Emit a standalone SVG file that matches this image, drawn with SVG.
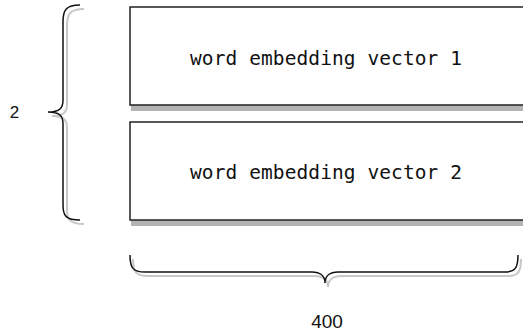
<svg xmlns="http://www.w3.org/2000/svg" width="523" height="334" viewBox="0 0 523 334">
<style>
.box{fill:#fff;stroke:#222;stroke-width:1.5}
.shadow{fill:#b3b3b3}
.brace{fill:none;stroke:#111;stroke-width:1.5}
.bshadow{fill:none;stroke:#c8c8c8;stroke-width:2}
.mono{font-family:"DejaVu Sans Mono","Liberation Mono",monospace;font-size:19.5px;fill:#111}
.lbl{font-family:"Liberation Sans",Arial,sans-serif;fill:#111}
</style>
<rect width="523" height="334" fill="#fff"/>
<g id="vector1">
<rect class="shadow" x="131" y="11" width="400" height="100"/>
<rect class="box" x="130" y="7" width="400" height="98"/>
<text class="mono" x="190" y="65" textLength="272" lengthAdjust="spacing">word embedding vector 1</text>
</g>
<g id="vector2">
<rect class="shadow" x="131" y="126" width="400" height="100"/>
<rect class="box" x="130" y="122" width="400" height="98"/>
<text class="mono" x="190" y="179" textLength="272" lengthAdjust="spacing">word embedding vector 2</text>
</g>
<g id="connectors">
<path class="bshadow" d="M84,9 C70,9 67,14 67,26 L67,104 C67,112 64,116 52,116 C64,116 67,120 67,128 L67,209 C67,220 70,224 84,224"/>
<path class="brace" d="M80,5 C66,5 63,10 63,22 L63,100 C63,108 60,112 48,112 C60,112 63,116 63,124 L63,205 C63,216 66,220 80,220"/>
<path class="bshadow" d="M133,259 C133,272 136,276 148,276 L315,276 C323,276 328,280 328,287 C328,280 333,276 341,276 L508,276 C518,276 521,272 521,259"/>
<path class="brace" d="M130,255 C130,268 133,272 145,272 L312,272 C320,272 325,276 325,283 C325,276 330,272 338,272 L505,272 C515,272 518,268 518,255"/>
</g>
<g id="label-rows"><text class="lbl" x="14.5" y="118" text-anchor="middle" font-size="17">2</text></g>
<g id="label-dim"><text class="lbl" x="327" y="328" text-anchor="middle" font-size="19">400</text></g>
</svg>
